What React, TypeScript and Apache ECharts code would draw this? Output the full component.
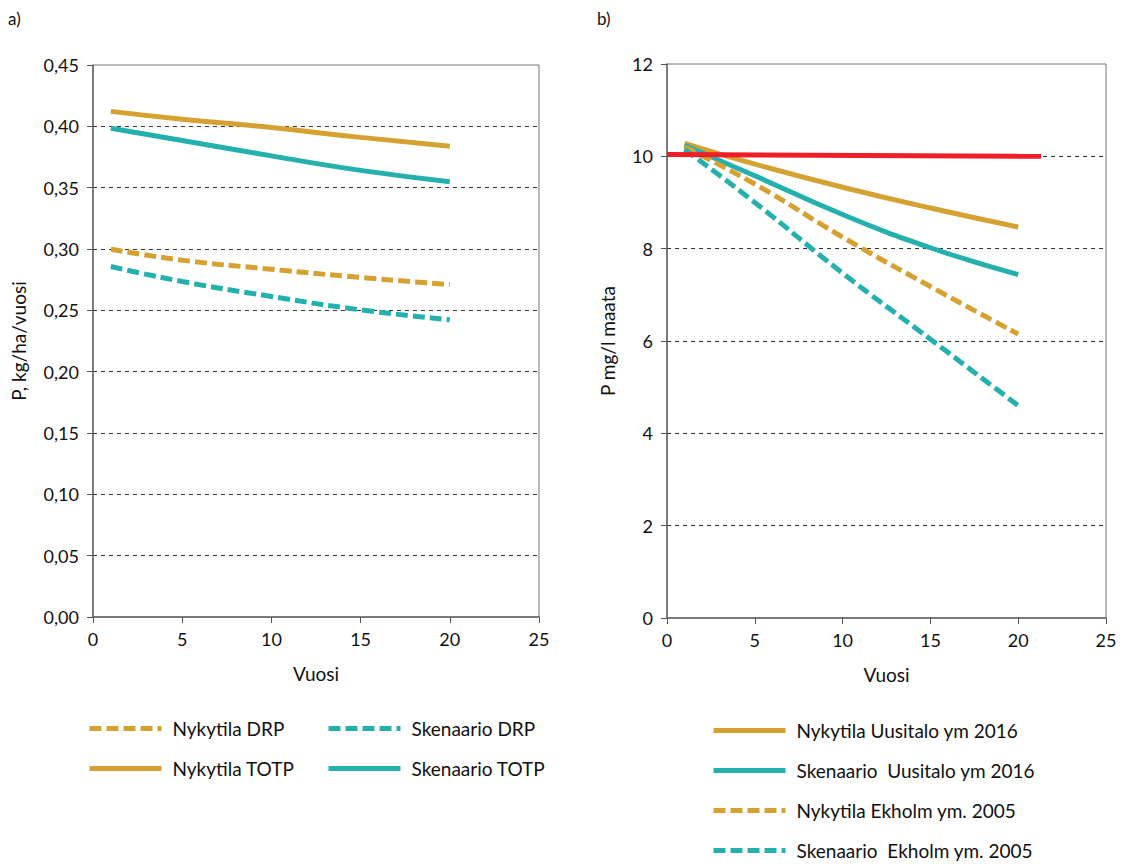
import React, { useEffect, useRef } from "react";
import * as echarts from "echarts";

// Panel a) – P load, kg/ha/vuosi
const yearsA = [1, 5, 10, 15, 20];
const nykytilaDRP = [0.2998, 0.2909, 0.2835, 0.2768, 0.271];
const skenaarioDRP = [0.2857, 0.2735, 0.2613, 0.2504, 0.2423];
const nykytilaTOTP = [0.4122, 0.4058, 0.399, 0.391, 0.3837];
const skenaarioTOTP = [0.3984, 0.3885, 0.3759, 0.3641, 0.3549];

// Panel b) – P mg/l maata
const yearsB = [1, 5, 10, 15, 20];
const nykUusitalo = [10.28, 9.83, 9.33, 8.88, 8.47];
const skeUusitalo = [10.24, 9.58, 8.74, 8.02, 7.44];
const nykEkholm = [10.2, 9.4, 8.25, 7.18, 6.15];
const skeEkholm = [10.15, 9.0, 7.47, 6.04, 4.6];
const redYears = [0, 21.3];
const redValues = [10.04, 10.0];

const xTicksMax = 25;
const yMaxA = 0.45;
const yMaxB = 12;

const ORANGE = "#D5A131";
const TEAL = "#24B1AE";
const RED = "#EE1D27";
const FONT = "Lato";

const pairs = (xs: number[], ys: number[]) => xs.map((x, i) => [x, ys[i]]);

export default function App() {
  const ref = useRef<HTMLDivElement>(null);
  useEffect(() => {
    if (!ref.current) return;
    const chart = echarts.init(ref.current, null, { renderer: "svg" });
    const axisLine = { show: true, lineStyle: { color: "#666", width: 1.5 } };
    const axisTick = { show: true, inside: false, length: 6, lineStyle: { color: "#555" } };
    const label = { color: "#111", fontSize: 18, fontFamily: FONT };
    const nameStyle = { color: "#111", fontSize: 19, fontFamily: FONT };
    const splitLine = {
      show: true,
      showMinLine: false,
      showMaxLine: false,
      lineStyle: { color: "#333", type: [4, 4], width: 1 },
    };
    const xAxisBase = (gridIndex: number) => ({
      type: "value",
      gridIndex,
      min: 0,
      max: xTicksMax,
      interval: 5,
      axisLine,
      axisTick,
      axisLabel: { ...label, margin: 13 },
      splitLine: { show: false },
      name: "Vuosi",
      nameLocation: "middle",
      nameGap: 47,
      nameTextStyle: nameStyle,
    });
    const line = (name: string, data: number[][], color: string, dashed: boolean, xi: number) => ({
      type: "line",
      name,
      xAxisIndex: xi,
      yAxisIndex: xi,
      data,
      smooth: true,
      symbol: "none",
      showSymbol: false,
      lineStyle: { color, width: 5, type: dashed ? [12, 5] : "solid" },
      itemStyle: { color },
    });
    const legendItem = (name: string, left: number, top: number) => ({
      show: true,
      left,
      top,
      orient: "horizontal",
      data: [name],
      itemWidth: 72,
      itemHeight: 14,
      padding: 0,
      selectedMode: false,
      itemStyle: { opacity: 0, borderWidth: 0 },
      lineStyle: { width: 5, type: "inherit" },
      textStyle: { ...nameStyle, padding: [0, 0, 0, 6] },
    });
    chart.setOption({
      animation: false,
      backgroundColor: "#fff",
      textStyle: { fontFamily: FONT },
      graphic: [
        { type: "text", left: 8, top: 10, style: { text: "a)", fontSize: 17, fontFamily: FONT, fill: "#111" } },
        { type: "text", left: 597, top: 10, style: { text: "b)", fontSize: 17, fontFamily: FONT, fill: "#111" } },
      ],
      grid: [
        { left: 93, top: 65, width: 446, height: 552, show: true, borderColor: "#777", borderWidth: 1, backgroundColor: "transparent" },
        { left: 667, top: 64, width: 439, height: 554, show: true, borderColor: "#777", borderWidth: 1, backgroundColor: "transparent" },
      ],
      xAxis: [xAxisBase(0), xAxisBase(1)],
      yAxis: [
        {
          type: "value",
          gridIndex: 0,
          min: 0,
          max: yMaxA,
          interval: 0.05,
          axisLine,
          axisTick,
          axisLabel: { ...label, margin: 14, formatter: (v: number) => v.toFixed(2).replace(".", ",") },
          splitLine,
          name: "P, kg/ha/vuosi",
          nameLocation: "middle",
          nameGap: 65,
          nameTextStyle: nameStyle,
        },
        {
          type: "value",
          gridIndex: 1,
          min: 0,
          max: yMaxB,
          interval: 2,
          axisLine,
          axisTick,
          axisLabel: { ...label, margin: 14 },
          splitLine,
          name: "P mg/l maata",
          nameLocation: "middle",
          nameGap: 50,
          nameTextStyle: nameStyle,
        },
      ],
      legend: [
        legendItem("Nykytila DRP", 87, 719),
        legendItem("Skenaario DRP", 326, 719),
        legendItem("Nykytila TOTP", 87, 759),
        legendItem("Skenaario TOTP", 326, 759),
        legendItem("Nykytila Uusitalo ym 2016", 711, 721),
        legendItem("Skenaario  Uusitalo ym 2016", 711, 761),
        legendItem("Nykytila Ekholm ym. 2005", 711, 801),
        legendItem("Skenaario  Ekholm ym. 2005", 711, 841),
      ],
      series: [
        line("Nykytila DRP", pairs(yearsA, nykytilaDRP), ORANGE, true, 0),
        line("Skenaario DRP", pairs(yearsA, skenaarioDRP), TEAL, true, 0),
        line("Nykytila TOTP", pairs(yearsA, nykytilaTOTP), ORANGE, false, 0),
        line("Skenaario TOTP", pairs(yearsA, skenaarioTOTP), TEAL, false, 0),
        line("Nykytila Uusitalo ym 2016", pairs(yearsB, nykUusitalo), ORANGE, false, 1),
        line("Skenaario  Uusitalo ym 2016", pairs(yearsB, skeUusitalo), TEAL, false, 1),
        line("Nykytila Ekholm ym. 2005", pairs(yearsB, nykEkholm), ORANGE, true, 1),
        line("Skenaario  Ekholm ym. 2005", pairs(yearsB, skeEkholm), TEAL, true, 1),
        { ...line("Raja", pairs(redYears, redValues), RED, false, 1), smooth: false },
      ],
    });
    return () => chart.dispose();
  }, []);
  return (
    <div
      ref={ref}
      style={{ position: "absolute", left: 0, top: 0, width: 1122, height: 864 }}
    />
  );
}
